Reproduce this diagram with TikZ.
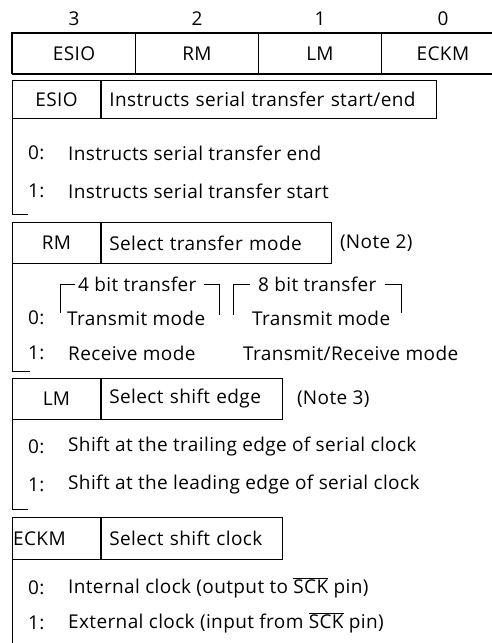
\documentclass[tikz,border=0pt]{standalone}
\usepackage{fontspec}
\setmainfont{Open Sans}[LetterSpace=2]
\usetikzlibrary{positioning,calc}

\begin{document}
\begin{tikzpicture}[
    x=1pt, y=-1pt,
    font=\fontsize{19}{22}\selectfont,
    regcell/.style={draw, line width=0.9pt, minimum width=123pt,
                    minimum height=40pt, inner sep=0pt, anchor=north west},
    namecell/.style={draw, line width=0.9pt, minimum width=88pt,
                     minimum height=40pt, inner sep=0pt, anchor=north west},
    desccell/.style={draw, line width=0.9pt, minimum height=40pt,
                     inner xsep=8pt, inner ysep=0pt, text width=#1,
                     align=left, anchor=north west},
    rowtext/.style={inner sep=0pt, anchor=west},
    notetext/.style={inner sep=0pt},
    sideline/.style={line width=0.9pt},
  ]
    \useasboundingbox (0,0) rectangle (492,643);

    % Register with bit numbers
    \foreach \n/\b [count=\i] in {ESIO/3,RM/2,LM/1,ECKM/0}{
      \node[regcell] (r\i) at ({12+123*(\i-1)},33) {\n};
      \node[inner sep=0pt, above=7pt of r\i.north] (b\i) {\b};
    }
    \draw[line width=2.2pt] (r1.south west) -- (r1.north west) -- (r4.north east);
    \draw[line width=1.4pt] (r1.south west) -- (r4.south east);

    % ESIO
    \node[namecell, minimum height=38pt] (esio) at (12,80) {ESIO};
    \node[desccell=319pt, minimum height=38pt, right=0pt of esio]
      (esiod) {Instructs serial transfer start/end};
    \node[rowtext] (esio0) at (28,153) {0:};
    \node[rowtext] (esio0t) at (68,153) {Instructs serial transfer end};
    \node[rowtext] (esio1) at (28,191) {1:};
    \node[rowtext] (esio1t) at (68,191) {Instructs serial transfer start};
    \draw[sideline] (esio.south west) -- ++(0,96) -- ++(16,0);

    % RM
    \node[namecell, minimum height=41pt] (rm) at (12,222) {RM};
    \node[desccell=214pt, minimum height=41pt, right=0pt of rm]
      (rmd) {Select transfer mode};
    \node[notetext, anchor=west, right=8pt of rmd] (note2) {(Note 2)};
    \node[rowtext] (bit4) at (78,284) {4 bit transfer};
    \node[rowtext] (bit8) at (258,284) {8 bit transfer};
    \node[rowtext] (rm0) at (28,318) {0:};
    \node[rowtext] (rm0a) at (67,318) {Transmit mode};
    \node[rowtext] (rm0b) at (252,318) {Transmit mode};
    \node[rowtext] (rm1) at (28,353) {1:};
    \node[rowtext] (rm1a) at (68,353) {Receive mode};
    \node[rowtext] (rm1b) at (243,353) {Transmit/Receive mode};
    % brackets round the two transfer widths
    \draw[sideline] ($(bit4.west)+(-3,0)$) -| ($(bit4.west)+(-18,29)$);
    \draw[sideline] ($(bit4.east)+(7,0)$) -| ($(bit4.east)+(23,31)$);
    \draw[sideline] ($(bit8.west)+(-8,0)$) -| ($(bit8.west)+(-25,31)$);
    \draw[sideline] ($(bit8.east)+(8,0)$) -| ($(bit8.east)+(25,29)$);
    \draw[sideline] (rm.south west) -- ++(0,108) -- ++(18,0);

    % LM
    \node[namecell, minimum height=41pt] (lm) at (12,378) {LM};
    \node[desccell=165pt, minimum height=41pt, right=0pt of lm]
      (lmd) {Select shift edge};
    \node[notetext, right=14pt of lmd] (note3) {(Note 3)};
    \node[rowtext] (lm0) at (28,447) {0:};
    \node[rowtext] (lm0t) at (68,447) {Shift at the trailing edge of serial clock};
    \node[rowtext] (lm1) at (28,485) {1:};
    \node[rowtext] (lm1t) at (68,485) {Shift at the leading edge of serial clock};
    \draw[sideline] (lm.south west) -- ++(0,90) -- ++(16,0);

    % ECKM
    \node[namecell, minimum height=42pt] (eckm) at (12,517) {};
    \node[inner sep=0pt, anchor=west] (eckml) at ($(eckm.west)+(1,0)$) {ECKM};
    \node[desccell=165pt, minimum height=42pt, right=0pt of eckm]
      (eckmd) {Select shift clock};
    \node[rowtext] (eckm0) at (28,588) {0:};
    \node[rowtext] (eckm0t) at (68,588) {Internal clock (output to $\overline{\mbox{SCK}}$ pin)};
    \node[rowtext] (eckm1) at (28,623) {1:};
    \node[rowtext] (eckm1t) at (68,623) {External clock (input from $\overline{\mbox{SCK}}$ pin)};
    \draw[sideline] (eckm.south west) -- ++(0,90);
  \end{tikzpicture}
\end{document}
